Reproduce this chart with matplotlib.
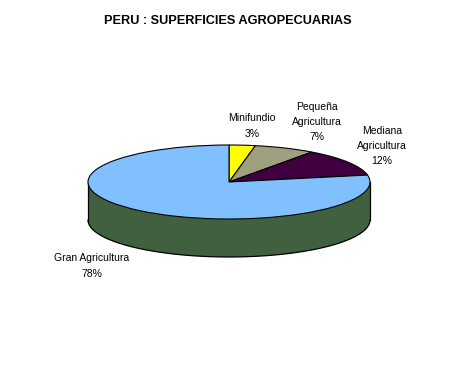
import numpy as np
import matplotlib
matplotlib.use("Agg")
import matplotlib.pyplot as plt

# ---- data ----
categories = ["Minifundio", "Pequeña\nAgricultura", "Mediana\nAgricultura", "Gran Agricultura"]
values = [3, 7, 12, 78]
pct_labels = ["3%", "7%", "12%", "78%"]
title = "PERU : SUPERFICIES AGROPECUARIAS"

# ---- style ----
colors = ["#FFFF00", "#A0A080", "#400040", "#80C0FF"]
side_color = "#406040"
W, H = 457, 367
cx, cy = 229, 182          # pixel centre of top ellipse (from top)
rx, ry = 141, 37           # pixel radii
depth_px = 38

fig = plt.figure(figsize=(W / 100, H / 100), dpi=100)
fig.patch.set_facecolor("white")
ax = fig.add_axes([0, 0, 1, 1])

cyb = H - cy
xlim = (-cx / rx, (W - cx) / rx)
ylim = (-cyb / ry, (H - cyb) / ry)
d = depth_px / ry

# side of cylinder (front half)
t = np.linspace(np.pi, 2 * np.pi, 300)
xs = np.cos(t)
ys = np.sin(t)
poly_x = np.concatenate([xs, xs[::-1]])
poly_y = np.concatenate([ys, ys[::-1] - d])
ax.fill(poly_x, poly_y, color=side_color, zorder=0.5, lw=0)
ax.plot(xs, ys - d, color="black", lw=0.9, zorder=0.6)
ax.plot([-1, -1], [0, -d], color="black", lw=0.9, zorder=0.6)
ax.plot([1, 1], [0, -d], color="black", lw=0.9, zorder=0.6)

ax.pie(values, colors=colors, startangle=90, counterclock=False,
       radius=1, center=(0, 0),
       wedgeprops=dict(edgecolor="black", linewidth=0.8))
ax.set_aspect("auto")
ax.set_xlim(*xlim)
ax.set_ylim(*ylim)
ax.axis("off")

label_pos = [(252, 126), (317, 122), (382, 146), (92, 266)]
for cat, pct, (px, py) in zip(categories, pct_labels, label_pos):
    fig.text(px / W, 1 - py / H, cat + "\n" + pct, ha="center", va="center",
             fontsize=7.5, family="Liberation Sans", linespacing=1.65)

fig.text(228 / W, 1 - 21 / H, title, ha="center", va="center",
         fontsize=9.2, fontweight="bold", family="Liberation Sans")

fig.savefig("out.png", dpi=100, facecolor="white")
